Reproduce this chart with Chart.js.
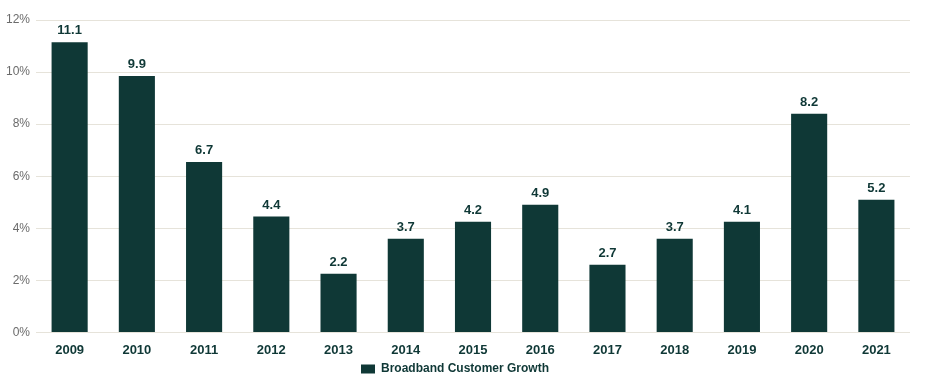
<!DOCTYPE html>
<html>
<head>
<meta charset="utf-8">
<script src="https://cdn.jsdelivr.net/npm/chart.js@4/dist/chart.umd.min.js"></script>
<style>
  html, body { margin: 0; padding: 0; background: #fff; }
  #wrap { width: 945px; height: 390px; }
</style>
</head>
<body>
<div id="wrap"><canvas id="growth" width="945" height="390"></canvas></div>
<script>
const years = ['2009', '2010', '2011', '2012', '2013', '2014', '2015', '2016', '2017', '2018', '2019', '2020', '2021'];
// bar heights as drawn in the picture (percent)
const growth = [11.15, 9.85, 6.55, 4.45, 2.25, 3.6, 4.25, 4.9, 2.6, 3.6, 4.25, 8.4, 5.1];
// value labels printed above the bars
const growthLabels = ['11.1', '9.9', '6.7', '4.4', '2.2', '3.7', '4.2', '4.9', '2.7', '3.7', '4.1', '8.2', '5.2'];
const yTicks = [0, 2, 4, 6, 8, 10, 12];

const DARK = '#0f3836';

// draws the numbers above each bar
const barLabels = {
  id: 'barLabels',
  afterDatasetsDraw(chart) {
    const ctx = chart.ctx;
    const meta = chart.getDatasetMeta(0);
    ctx.save();
    ctx.font = 'bold 13px "Liberation Sans", Arial, sans-serif';
    ctx.fillStyle = DARK;
    ctx.textAlign = 'center';
    ctx.textBaseline = 'bottom';
    meta.data.forEach((bar, i) => {
      ctx.fillText(growthLabels[i], bar.x, bar.y - 5);
    });
    ctx.restore();
  }
};

new Chart(document.getElementById('growth'), {
  type: 'bar',
  data: {
    labels: years,
    datasets: [{
      label: 'Broadband Customer Growth',
      data: growth,
      backgroundColor: DARK,
      borderWidth: 0,
      barPercentage: 0.537,
      categoryPercentage: 1
    }]
  },
  options: {
    responsive: false,
    animation: false,
    layout: { padding: { top: 20, right: 35, left: 0, bottom: 5 } },
    plugins: {
      tooltip: { enabled: false },
      legend: {
        position: 'bottom',
        labels: {
          color: DARK,
          boxWidth: 14,
          boxHeight: 9,
          padding: 3,
          font: { family: '"Liberation Sans", Arial, sans-serif', size: 12, weight: 'bold' }
        }
      }
    },
    scales: {
      x: {
        grid: { display: false },
        border: { display: false },
        ticks: {
          color: DARK,
          padding: 2,
          font: { family: '"Liberation Sans", Arial, sans-serif', size: 13, weight: 'bold' }
        }
      },
      y: {
        min: 0,
        max: 12,
        afterBuildTicks: (axis) => { axis.ticks = yTicks.map(v => ({ value: v })); },
        grid: { color: '#e6e3da', drawTicks: false },
        border: { display: false },
        ticks: {
          color: '#6b6b6b',
          padding: 6,
          callback: (v) => v + '%',
          font: { family: '"Liberation Sans", Arial, sans-serif', size: 12 }
        }
      }
    }
  },
  plugins: [barLabels]
});
</script>
</body>
</html>
